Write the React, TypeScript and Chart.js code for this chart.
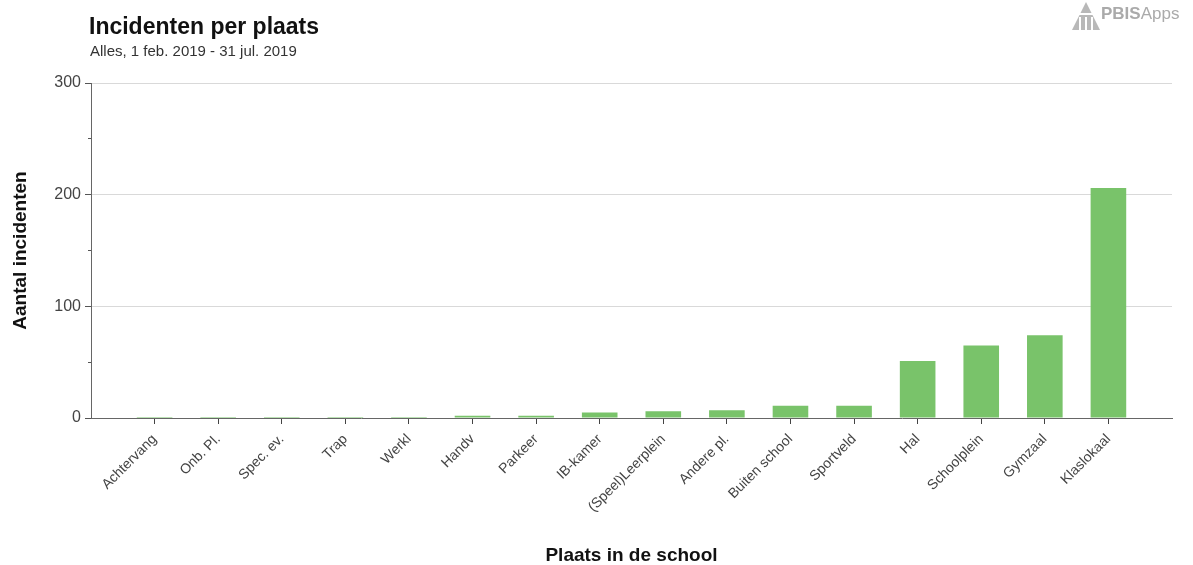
import React, { useEffect, useRef } from 'react';
import { Chart, registerables } from 'chart.js';

Chart.register(...registerables);

const categories = [
  'Achtervang', 'Onb. Pl.', 'Spec. ev.', 'Trap', 'Werkl', 'Handv', 'Parkeer', 'IB-kamer',
  '(Speel)Leerplein', 'Andere pl.', 'Buiten school', 'Sportveld', 'Hal', 'Schoolplein', 'Gymzaal', 'Klaslokaal',
];
const incidents = [1, 1, 1, 1, 1, 2, 2, 5, 6, 7, 11, 11, 51, 65, 74, 206];
const yMax = 300;
const yMinorStep = 50;
const yLabelStep = 100;

const titleText = 'Incidenten per plaats';
const subtitleText = 'Alles, 1 feb. 2019 - 31 jul. 2019';
const yTitle = 'Aantal incidenten';
const xTitle = 'Plaats in de school';

const FONT = '"Liberation Sans", Arial, Helvetica, sans-serif';
const TRANSPARENT = 'rgba(0,0,0,0)';

export default function App() {
  const canvasRef = useRef<HTMLCanvasElement>(null);

  useEffect(() => {
    const canvas = canvasRef.current;
    if (!canvas) return;
    const labels = ['', ...categories, ''];
    const data = [null, ...incidents, null];
    const lastIdx = labels.length - 1;
    const chart = new Chart(canvas, {
      type: 'bar',
      data: {
        labels,
        datasets: [
          {
            data,
            backgroundColor: '#79c36a',
            borderWidth: 0,
            barPercentage: 0.56,
            categoryPercentage: 1,
            yAxisID: 'y',
          },
        ],
      },
      options: {
        animation: false,
        responsive: false,
        maintainAspectRatio: false,
        layout: { padding: { top: 83, right: 21, left: 0, bottom: 0 } },
        plugins: {
          legend: { display: false },
          tooltip: { enabled: false },
          title: { display: false },
        },
        scales: {
          x: {
            type: 'category',
            offset: false,
            grid: {
              offset: false,
              drawOnChartArea: false,
              drawTicks: true,
              tickLength: 6,
              tickColor: (ctx: any) => (ctx.index === 0 || ctx.index === lastIdx ? TRANSPARENT : '#444'),
            },
            border: { display: true, color: '#666', width: 1 },
            ticks: {
              autoSkip: false,
              maxRotation: 45,
              minRotation: 45,
              padding: 7,
              color: '#444',
              font: { family: FONT, size: 14 },
            },
            title: {
              display: true,
              text: xTitle,
              color: '#111',
              font: { family: FONT, size: 19, weight: 'bold', lineHeight: 1 },
              padding: { top: 0, bottom: 0 },
            },
            afterFit: (scale: any) => {
              scale.height = 147;
            },
          },
          y: {
            position: 'left',
            weight: 1,
            min: 0,
            max: yMax,
            grid: {
              drawOnChartArea: true,
              tickLength: 6,
              color: (ctx: any) => (ctx.tick && ctx.tick.value > 0 ? '#d9d9d9' : TRANSPARENT),
              tickColor: '#555',
            },
            border: { display: true, color: '#666', width: 1 },
            ticks: {
              stepSize: yLabelStep,
              padding: 4,
              color: '#444',
              font: { family: FONT, size: 16 },
            },
            title: {
              display: true,
              text: yTitle,
              color: '#111',
              font: { family: FONT, size: 19, weight: 'bold', lineHeight: 1 },
              padding: { top: 11, bottom: 0 },
            },
            afterFit: (scale: any) => {
              scale.width = 91;
            },
          },
          yMinor: {
            position: 'left',
            weight: 0,
            min: 0,
            max: yMax,
            grid: {
              drawOnChartArea: false,
              tickLength: 3,
              tickColor: (ctx: any) =>
                ctx.tick && ctx.tick.value % yLabelStep !== 0 ? '#555' : TRANSPARENT,
            },
            border: { display: false },
            ticks: {
              stepSize: yMinorStep,
              padding: 0,
              callback: () => '',
            },
            title: { display: false },
            afterFit: (scale: any) => {
              scale.width = 0;
            },
          },
        },
      },
    });
    return () => chart.destroy();
  }, []);

  return (
    <div
      style={{
        position: 'fixed',
        left: 0,
        top: 0,
        width: 1193,
        height: 565,
        background: '#fff',
        overflow: 'hidden',
        fontFamily: FONT,
      }}
    >
      <canvas ref={canvasRef} width={1193} height={565} style={{ position: 'absolute', left: 0, top: 0, width: 1193, height: 565 }} />
      <div
        style={{
          position: 'absolute',
          left: 89,
          top: 15,
          fontSize: 23,
          lineHeight: '23px',
          fontWeight: 'bold',
          color: '#111',
          whiteSpace: 'nowrap',
        }}
      >
        {titleText}
      </div>
      <div
        style={{
          position: 'absolute',
          left: 90,
          top: 43,
          fontSize: 15,
          lineHeight: '15px',
          color: '#333',
          whiteSpace: 'nowrap',
        }}
      >
        {subtitleText}
      </div>
      <div style={{ position: 'absolute', left: 1071, top: 0, height: 30, display: 'flex', alignItems: 'flex-end' }}>
        <svg width={30} height={30} viewBox="0 0 30 30" style={{ display: 'block' }}>
          <polygon points="1,30 15,2 29,30" fill="#b8b8b8" />
          <rect x={0} y={13} width={30} height={2} fill="#fff" />
          <rect x={8} y={17} width={2} height={13} fill="#fff" />
          <rect x={14} y={17} width={2} height={13} fill="#fff" />
          <rect x={20} y={17} width={2} height={13} fill="#fff" />
        </svg>
        <span style={{ fontSize: 17, lineHeight: '17px', color: '#aaa', marginLeft: 0, marginBottom: 8 }}>
          <b>PBIS</b>
          <span style={{ fontWeight: 300 }}>Apps</span>
        </span>
      </div>
    </div>
  );
}
